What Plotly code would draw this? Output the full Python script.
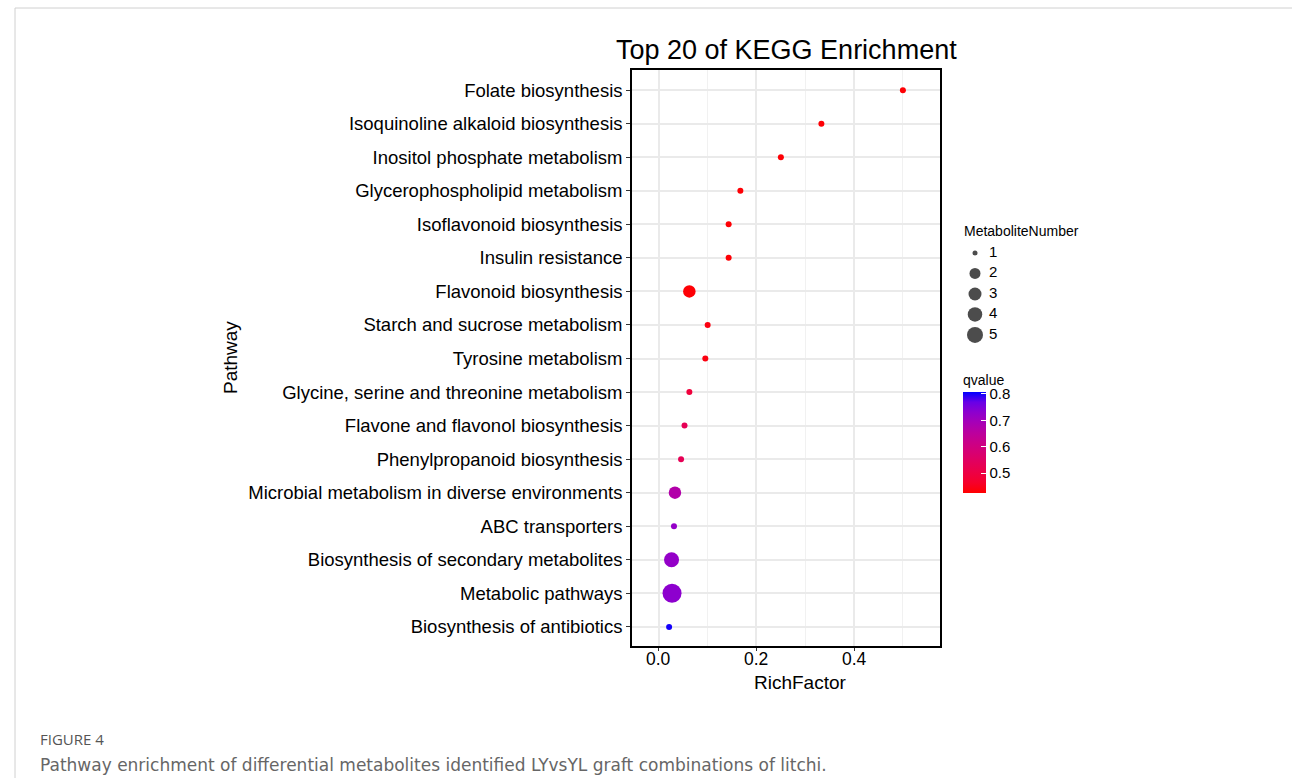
import numpy as np
import plotly.graph_objects as go

# ---------------- data ----------------
pathways = [
    "Folate biosynthesis",
    "Isoquinoline alkaloid biosynthesis",
    "Inositol phosphate metabolism",
    "Glycerophospholipid metabolism",
    "Isoflavonoid biosynthesis",
    "Insulin resistance",
    "Flavonoid biosynthesis",
    "Starch and sucrose metabolism",
    "Tyrosine metabolism",
    "Glycine, serine and threonine metabolism",
    "Flavone and flavonol biosynthesis",
    "Phenylpropanoid biosynthesis",
    "Microbial metabolism in diverse environments",
    "ABC transporters",
    "Biosynthesis of secondary metabolites",
    "Metabolic pathways",
    "Biosynthesis of antibiotics",
]
rich_factor = [0.50, 0.333, 0.25, 0.167, 0.143, 0.143, 0.0625, 0.10, 0.0952,
               0.0625, 0.0526, 0.0455, 0.033, 0.031, 0.026, 0.027, 0.021]
metabolite_number = [1, 1, 1, 1, 1, 1, 3, 1, 1, 1, 1, 1, 3, 1, 4, 5, 1]
qvalue = [0.43, 0.43, 0.43, 0.43, 0.43, 0.43, 0.43, 0.44, 0.44,
          0.49, 0.53, 0.53, 0.67, 0.72, 0.72, 0.73, 0.80]

size_legend_values = [1, 2, 3, 4, 5]
qvalue_ticks = [0.5, 0.6, 0.7, 0.8]
x_ticks = [0.0, 0.2, 0.4]

# ---------------- styling helpers ----------------
W, H = 1292, 778
FONT = "Liberation Sans, Arial, sans-serif"


def px_x(p):
    return p / W


def px_y(p):
    return 1 - p / H


def srgb_to_lab(rgb):
    c = np.array(rgb) / 255.0
    c = np.where(c > 0.04045, ((c + 0.055) / 1.055) ** 2.4, c / 12.92)
    M = np.array([[0.4124, 0.3576, 0.1805],
                  [0.2126, 0.7152, 0.0722],
                  [0.0193, 0.1192, 0.9505]])
    xyz = M @ c
    xyz = xyz / np.array([0.95047, 1.0, 1.08883])
    f = np.where(xyz > 0.008856, np.cbrt(xyz), 7.787 * xyz + 16 / 116)
    return np.array([116 * f[1] - 16, 500 * (f[0] - f[1]), 200 * (f[1] - f[2])])


def lab_to_srgb(lab):
    L, a, b = lab
    fy = (L + 16) / 116
    fx = fy + a / 500
    fz = fy - b / 200
    f = np.array([fx, fy, fz])
    xyz = np.where(f ** 3 > 0.008856, f ** 3, (f - 16 / 116) / 7.787)
    xyz = xyz * np.array([0.95047, 1.0, 1.08883])
    Minv = np.array([[3.2406, -1.5372, -0.4986],
                     [-0.9689, 1.8758, 0.0415],
                     [0.0557, -0.2040, 1.0570]])
    c = Minv @ xyz
    c = np.where(c > 0.0031308, 1.055 * np.clip(c, 0, None) ** (1 / 2.4) - 0.055, 12.92 * c)
    c = np.clip(c, 0, 1) * 255
    return "rgb(%d,%d,%d)" % tuple(np.round(c).astype(int))


lab_lo = srgb_to_lab([255, 0, 0])
lab_hi = srgb_to_lab([0, 0, 255])
colorscale = [[t, lab_to_srgb(lab_lo + (lab_hi - lab_lo) * t)] for t in np.linspace(0, 1, 11)]

size_px = {1: 6, 2: 10, 3: 12.5, 4: 15, 5: 19}
legend_px = {1: 5, 2: 11, 3: 13, 4: 14.5, 5: 16}

fig = go.Figure()

fig.add_trace(go.Scatter(
    x=rich_factor, y=pathways, mode="markers",
    marker=dict(
        size=[size_px[n] for n in metabolite_number],
        color=qvalue, colorscale=colorscale, cmin=0.425, cmax=0.807,
        line=dict(width=0),
        opacity=1,
        colorbar=dict(
            x=px_x(963), xanchor="left", xpad=0,
            y=px_y(493), yanchor="bottom", ypad=0,
            len=(493 - 371) / H, lenmode="fraction", thickness=23,
            outlinewidth=0, tickvals=qvalue_ticks,
            ticktext=["%.1f" % v for v in qvalue_ticks],
            ticks="inside", ticklen=5, tickcolor="white", tickwidth=1,
            tickfont=dict(family=FONT, size=15, color="black"),
            title=dict(text="qvalue", side="top",
                       font=dict(family=FONT, size=14, color="black")),
        ),
    ),
    showlegend=False, hoverinfo="x+y",
))

# size legend (drawn on hidden axes)
fig.add_trace(go.Scatter(
    x=[15] * len(size_legend_values), y=size_legend_values, mode="markers",
    marker=dict(size=[legend_px[n] for n in size_legend_values], color="#000000",
                line=dict(width=0)),
    xaxis="x2", yaxis="y2", showlegend=False, hoverinfo="skip",
))
fig.add_trace(go.Scatter(
    x=[29] * len(size_legend_values), y=size_legend_values, mode="text",
    text=[str(v) for v in size_legend_values], textposition="middle right",
    textfont=dict(family=FONT, size=15, color="black"),
    xaxis="x2", yaxis="y2", showlegend=False, hoverinfo="skip",
))

n = len(pathways)

# x tick labels placed through the x scale, just below the panel
tick_annotations = [
    dict(text="%.1f" % v, x=v, xref="x", y=px_y(659), yref="paper",
         xanchor="center", yanchor="middle", showarrow=False,
         font=dict(family=FONT, size=17.5, color="black"))
    for v in x_ticks
]

fig.update_layout(
    width=W, height=H,
    margin=dict(l=0, r=0, t=0, b=0),
    paper_bgcolor="white", plot_bgcolor="white",
    font=dict(family=FONT, color="black"),
    xaxis=dict(
        domain=[px_x(632), px_x(940)], range=[-0.055, 0.576],
        tickvals=x_ticks, showticklabels=False,
        showgrid=True, gridcolor="#EAEAEA", gridwidth=1.5,
        minor=dict(dtick=0.1, tick0=0, showgrid=True, gridcolor="#F1F1F1", gridwidth=0.8),
        showline=True, mirror=True, linecolor="black", linewidth=1.6,
        ticks="outside", ticklen=3, tickcolor="#333", zeroline=False,
    ),
    yaxis=dict(
        domain=[px_y(646), px_y(70)], type="category",
        categoryorder="array", categoryarray=pathways[::-1],
        range=[-0.57, n - 1 + 0.6],
        tickfont=dict(size=18.5, color="black"),
        showgrid=True, gridcolor="#EAEAEA", gridwidth=1.5,
        showline=True, mirror=True, linecolor="black", linewidth=1.6,
        ticks="outside", ticklen=4, tickcolor="#333", zeroline=False,
    ),
    xaxis2=dict(domain=[px_x(960), px_x(1060)], range=[0, 100], visible=False,
                anchor="y2"),
    yaxis2=dict(domain=[px_y(345), px_y(240)], range=[5.49, 0.366], visible=False,
                anchor="x2"),
    annotations=tick_annotations + [
        dict(text="Top 20 of KEGG Enrichment", x=px_x(786), y=px_y(50),
             xanchor="center", yanchor="middle",
             xref="paper", yref="paper", showarrow=False,
             font=dict(family=FONT, size=27, color="black")),
        dict(text="Pathway", x=px_x(230), y=px_y(358), textangle=-90,
             xanchor="center", yanchor="middle",
             xref="paper", yref="paper", showarrow=False,
             font=dict(family=FONT, size=19, color="black")),
        dict(text="RichFactor", x=px_x(800), y=px_y(682),
             xanchor="center", yanchor="middle",
             xref="paper", yref="paper", showarrow=False,
             font=dict(family=FONT, size=19, color="black")),
        dict(text="MetaboliteNumber", x=px_x(962), y=px_y(231),
             xanchor="left", yanchor="middle",
             xref="paper", yref="paper", showarrow=False,
             font=dict(family=FONT, size=14, color="black")),
        dict(text="FIGURE 4", x=px_x(38), y=px_y(739),
             xanchor="left", yanchor="middle",
             xref="paper", yref="paper", showarrow=False,
             font=dict(family="Open Sans, sans-serif", size=15, color="#555555")),
        dict(text="Pathway enrichment of differential metabolites identified LYvsYL graft combinations of litchi.",
             x=px_x(38), y=px_y(765), xanchor="left", yanchor="middle",
             xref="paper", yref="paper", showarrow=False,
             font=dict(family="DejaVu Sans, sans-serif", size=17, color="#666666")),
    ],
    shapes=[
        dict(type="line", xref="paper", yref="paper", x0=px_x(15), x1=1,
             y0=px_y(8), y1=px_y(8), line=dict(color="#D0D0D0", width=1)),
        dict(type="line", xref="paper", yref="paper", x0=px_x(15), x1=px_x(15),
             y0=px_y(8), y1=0, line=dict(color="#D0D0D0", width=1)),
    ],
)

fig.write_html("out.html", post_script="document.body.style.margin='0';",
               config={"displayModeBar": False})
